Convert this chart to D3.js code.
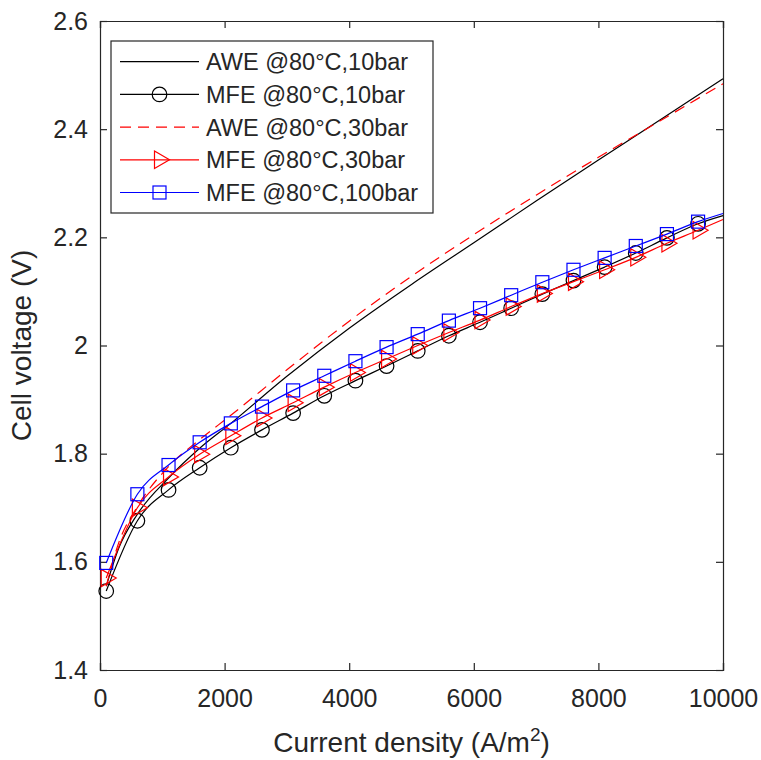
<!DOCTYPE html>
<html>
<head>
<meta charset="utf-8">
<script src="https://cdn.jsdelivr.net/npm/d3@7"></script>
<style>
  body { margin: 0; background: #fff; }
  text { font-family: "Liberation Sans", Arial, sans-serif; fill: #262626; }
</style>
</head>
<body>
<div id="chart"></div>
<script>
// marker positions (A/m2)
var markerX = [100, 600, 1100, 1600, 2100, 2600, 3100, 3600, 4100, 4600,
  5100, 5600, 6100, 6600, 7100, 7600, 8100, 8600, 9100, 9600];

// MFE series, values at markers, plus end value at 10000
var mfe10 = [1.546, 1.676, 1.733, 1.774, 1.811, 1.844, 1.875, 1.907, 1.935, 1.962,
  1.990, 2.018, 2.043, 2.069, 2.095, 2.120, 2.145, 2.171, 2.199, 2.225];
var mfe30 = [1.570, 1.700, 1.757, 1.799, 1.833, 1.866, 1.894, 1.923, 1.950, 1.975,
  2.000, 2.024, 2.047, 2.072, 2.096, 2.118, 2.140, 2.163, 2.189, 2.213];
var mfe100 = [1.598, 1.725, 1.779, 1.821, 1.856, 1.887, 1.917, 1.944, 1.971, 1.997,
  2.021, 2.046, 2.069, 2.093, 2.117, 2.140, 2.162, 2.184, 2.206, 2.229];
var mfeEnd = { mfe10: 2.240, mfe30: 2.233, mfe100: 2.244 };

// AWE series
var aweX = [100, 300, 600, 1100, 1600, 2100, 3000, 4000, 5000, 6000, 7000, 8000, 9000, 10000];
var awe10 = [1.555, 1.625, 1.688, 1.755, 1.810, 1.856, 1.943, 2.032, 2.113, 2.190, 2.267, 2.343, 2.418, 2.493];
var awe30 = [1.555, 1.635, 1.702, 1.776, 1.826, 1.871, 1.955, 2.045, 2.128, 2.205, 2.278, 2.348, 2.416, 2.484];

var xTicks = [0, 2000, 4000, 6000, 8000, 10000];
var yTicks = [1.4, 1.6, 1.8, 2, 2.2, 2.4, 2.6];

var legendLabels = ["AWE @80°C,10bar", "MFE @80°C,10bar", "AWE @80°C,30bar",
  "MFE @80°C,30bar", "MFE @80°C,100bar"];

var W = 761, H = 760;
var margin = { top: 21, right: 38, bottom: 90, left: 100 },
  width = W - margin.left - margin.right,
  height = H - margin.top - margin.bottom;

var svg = d3.select("#chart").append("svg")
  .attr("width", W)
  .attr("height", H);

var g = svg.append("g")
  .attr("transform", "translate(" + margin.left + "," + margin.top + ")");

var x = d3.scaleLinear().domain([0, 10000]).range([0, width]);
var y = d3.scaleLinear().domain([1.4, 2.6]).range([height, 0]);

var axisColor = "#262626";

// axes with inward ticks
var xAxis = d3.axisBottom(x).tickValues(xTicks).tickSize(-7).tickPadding(19).tickFormat(d3.format("d"));
var yAxis = d3.axisLeft(y).tickValues(yTicks).tickSize(-7).tickPadding(12).tickFormat(d3.format("~g"));

var gx = g.append("g").attr("transform", "translate(0," + height + ")").call(xAxis);
var gy = g.append("g").call(yAxis);
g.append("g").call(d3.axisTop(x).tickValues(xTicks).tickSize(-7).tickFormat(""));
g.append("g").attr("transform", "translate(" + width + ",0)")
  .call(d3.axisRight(y).tickValues(yTicks).tickSize(-7).tickFormat(""));

g.selectAll(".domain").attr("stroke", axisColor).attr("stroke-width", 1.2);
g.selectAll(".tick line").attr("stroke", axisColor).attr("stroke-width", 1.2);
g.selectAll(".tick text").style("font-size", "25px").attr("fill", axisColor)
  .style("font-family", "'Liberation Sans', Arial, sans-serif");
gx.selectAll(".tick text").attr("dy", "0.71em");

// axis titles
svg.append("text")
  .attr("transform", "translate(" + 31 + "," + (margin.top + height / 2) + ") rotate(-90)")
  .attr("text-anchor", "middle")
  .style("font-size", "28px")
  .text("Cell voltage (V)");

var xt = svg.append("text")
  .attr("x", margin.left + width / 2)
  .attr("y", 752)
  .attr("text-anchor", "middle")
  .style("font-size", "28px");
xt.append("tspan").text("Current density (A/m");
xt.append("tspan").attr("dy", -11).style("font-size", "19px").text("2");
xt.append("tspan").attr("dy", 11).text(")");

// lines
var line = d3.line()
  .x(function (d) { return x(d[0]); })
  .y(function (d) { return y(d[1]); })
  .curve(d3.curveMonotoneX);

function pairs(xs, ys) { return xs.map(function (v, i) { return [v, ys[i]]; }); }

var plot = g.append("g");

var series = [
  { pts: pairs(aweX, awe10), color: "#000000", dash: null, marker: null },
  { pts: pairs(markerX, mfe10).concat([[10000, mfeEnd.mfe10]]), mk: pairs(markerX, mfe10), color: "#000000", dash: null, marker: "circle" },
  { pts: pairs(aweX, awe30), color: "#ff0000", dash: "11,7", marker: null },
  { pts: pairs(markerX, mfe30).concat([[10000, mfeEnd.mfe30]]), mk: pairs(markerX, mfe30), color: "#ff0000", dash: null, marker: "triangle" },
  { pts: pairs(markerX, mfe100).concat([[10000, mfeEnd.mfe100]]), mk: pairs(markerX, mfe100), color: "#0000ff", dash: null, marker: "square" }
];

function drawMarker(sel, type, color) {
  if (type === "circle") {
    sel.append("circle").attr("r", 7.3);
  } else if (type === "square") {
    sel.append("rect").attr("x", -6.5).attr("y", -6.5).attr("width", 13).attr("height", 13);
  } else if (type === "triangle") {
    sel.append("path").attr("d", "M-5,-8.7L10,0L-5,8.7Z");
  }
  sel.selectAll("*").attr("fill", "none").attr("stroke", color).attr("stroke-width", 1.2);
}

series.forEach(function (s) {
  plot.append("path")
    .datum(s.pts)
    .attr("fill", "none")
    .attr("stroke", s.color)
    .attr("stroke-width", 1.2)
    .attr("stroke-dasharray", s.dash)
    .attr("d", line);
  if (s.marker) {
    plot.selectAll(null)
      .data(s.mk)
      .enter().append("g")
      .attr("transform", function (d) { return "translate(" + x(d[0]) + "," + y(d[1]) + ")"; })
      .each(function () { drawMarker(d3.select(this), s.marker, s.color); });
  }
});

// legend
var legend = svg.append("g");
legend.append("rect")
  .attr("x", 111).attr("y", 41)
  .attr("width", 322).attr("height", 172)
  .attr("fill", "#fff").attr("stroke", axisColor).attr("stroke-width", 1.2);

var rows = legend.selectAll(".legend")
  .data(series)
  .enter().append("g")
  .attr("class", "legend")
  .attr("transform", function (d, i) { return "translate(0," + (61.7 + i * 32.7) + ")"; });

rows.append("line")
  .attr("x1", 120).attr("x2", 199)
  .attr("stroke", function (d) { return d.color; })
  .attr("stroke-width", 1.2)
  .attr("stroke-dasharray", function (d) { return d.dash; });

rows.each(function (d) {
  if (d.marker) {
    var m = d3.select(this).append("g").attr("transform", "translate(159.5,0)");
    drawMarker(m, d.marker, d.color);
  }
});

rows.append("text")
  .attr("x", 206)
  .attr("dy", "0.36em")
  .style("font-size", "23.5px")
  .text(function (d, i) { return legendLabels[i]; });
</script>
</body>
</html>
